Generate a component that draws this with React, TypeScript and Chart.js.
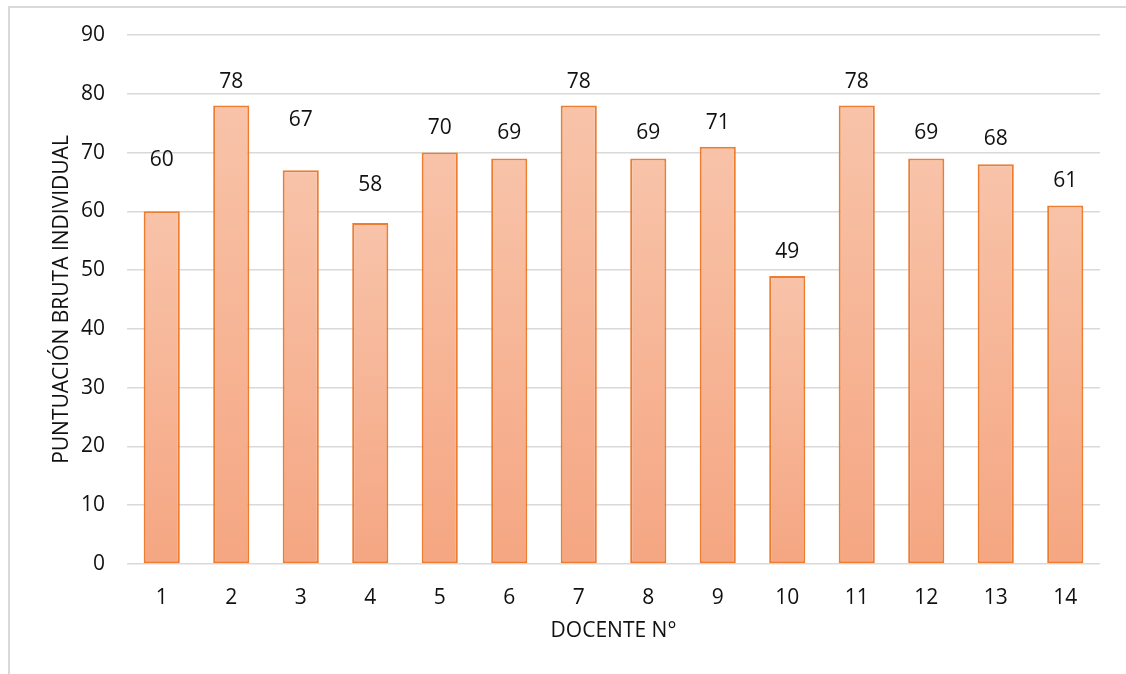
import React, { useEffect, useRef } from "react";
import { Chart, registerables } from "chart.js";

Chart.register(...registerables);

const docentes = ["1", "2", "3", "4", "5", "6", "7", "8", "9", "10", "11", "12", "13", "14"];
const puntuaciones = [60, 78, 67, 58, 70, 69, 78, 69, 71, 49, 78, 69, 68, 61];
const yTicks = [0, 10, 20, 30, 40, 50, 60, 70, 80, 90];

// Vertical gap (px) between each bar top and the centre of its value label
const labelGap = [51, 24, 50, 38, 25, 25, 24, 25, 24, 24, 24, 25, 25, 24];

const FONT = "'Open Sans', 'Liberation Sans', sans-serif";
const TEXT = "#111111";

// Prints each bar's value above it
const valueLabels = {
  id: "valueLabels",
  afterDatasetsDraw(chart: any) {
    const { ctx } = chart;
    const meta = chart.getDatasetMeta(0);
    ctx.save();
    ctx.font = `21px ${FONT}`;
    ctx.fillStyle = TEXT;
    ctx.textAlign = "center";
    ctx.textBaseline = "middle";
    meta.data.forEach((bar: any, i: number) => {
      ctx.fillText(String(puntuaciones[i]), bar.x, bar.y - labelGap[i]);
    });
    ctx.restore();
  },
};

// Light grey frame around the chart
const frame = {
  id: "frame",
  beforeDraw(chart: any) {
    const { ctx } = chart;
    ctx.save();
    ctx.fillStyle = "#ffffff";
    ctx.fillRect(0, 0, chart.width, chart.height);
    ctx.strokeStyle = "#d9d9d9";
    ctx.lineWidth = 2;
    ctx.beginPath();
    ctx.moveTo(9, chart.height + 5);
    ctx.lineTo(9, 7);
    ctx.lineTo(chart.width + 5, 7);
    ctx.stroke();
    ctx.restore();
  },
};

function barFill(context: any) {
  const chart = context.chart;
  const y = chart.scales && chart.scales.y;
  if (!y || !chart.chartArea) return "#F6B393";
  const v = puntuaciones[context.dataIndex];
  const top = y.getPixelForValue(v);
  const bottom = y.getPixelForValue(0);
  const g = chart.ctx.createLinearGradient(0, top, 0, bottom);
  g.addColorStop(0, "#F8C3A9");
  g.addColorStop(1, "#F5A682");
  return g;
}

export default function App() {
  const canvasRef = useRef<HTMLCanvasElement>(null);

  useEffect(() => {
    if (!canvasRef.current) return;
    const chart = new Chart(canvasRef.current, {
      type: "bar",
      data: {
        labels: docentes,
        datasets: [
          {
            data: puntuaciones,
            backgroundColor: barFill,
            borderColor: "#ED7D31",
            borderWidth: 2,
            borderSkipped: false,
            barPercentage: 0.52,
            categoryPercentage: 1,
          },
        ],
      },
      options: {
        animation: false,
        responsive: false,
        maintainAspectRatio: false,
        layout: { padding: { left: 49, right: 26, top: 35, bottom: 30 } },
        plugins: {
          legend: { display: false },
          tooltip: { enabled: false },
        },
        scales: {
          x: {
            grid: { display: false, drawTicks: false },
            border: { display: false },
            ticks: {
              color: TEXT,
              font: { family: FONT, size: 21 },
              padding: 21,
              maxRotation: 0,
            },
            title: {
              display: true,
              text: "DOCENTE N°",
              color: TEXT,
              font: { family: FONT, size: 21 },
              padding: { top: 6, bottom: 0 },
            },
            afterFit(scale: any) {
              scale.height = 80;
            },
          },
          y: {
            min: 0,
            max: 90,
            afterBuildTicks(scale: any) {
              scale.ticks = yTicks.map((v) => ({ value: v }));
            },
            grid: { color: "#d9d9d9", lineWidth: 1.5, drawTicks: false },
            border: { display: false },
            ticks: {
              color: TEXT,
              font: { family: FONT, size: 21 },
              padding: 22,
            },
            title: {
              display: true,
              text: "PUNTUACIÓN BRUTA INDIVIDUAL",
              color: TEXT,
              font: { family: FONT, size: 21 },
              padding: 0,
            },
            afterFit(scale: any) {
              scale.width = 127 - 49;
            },
          },
        },
      },
      plugins: [frame, valueLabels],
    });
    return () => chart.destroy();
  }, []);

  return (
    <div style={{ position: "fixed", left: 0, top: 0, width: 1126, height: 674 }}>
      <canvas ref={canvasRef} width={1126} height={674} style={{ display: "block" }} />
    </div>
  );
}
